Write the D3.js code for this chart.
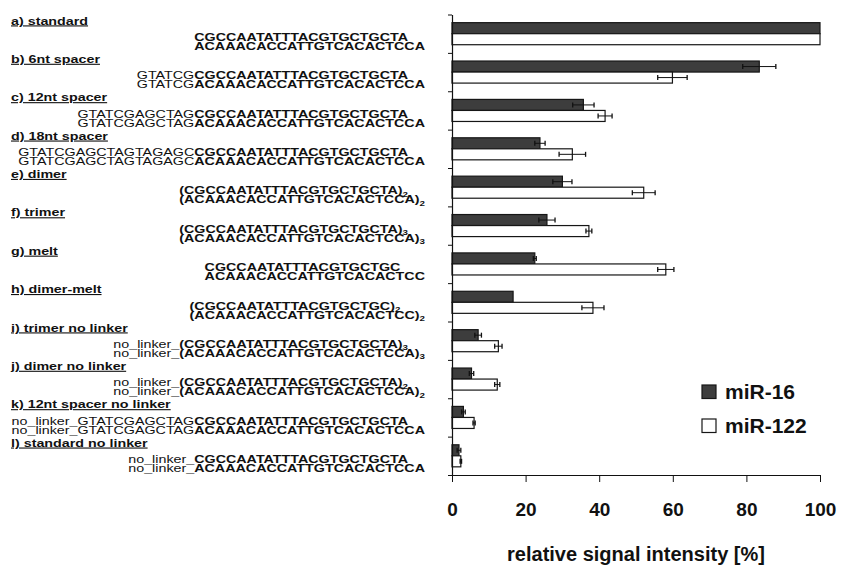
<!DOCTYPE html>
<html>
<head>
<meta charset="utf-8">
<script src="https://cdn.jsdelivr.net/npm/d3@7"></script>
<style>
  body { margin: 0; background: #fff; }
  svg text { font-family: "Liberation Sans", Arial, sans-serif; fill: #111; }
</style>
</head>
<body>
<svg id="chart" width="841" height="567"></svg>
<script>
// data
let rowLabels = ['a) standard', 'b) 6nt spacer', 'c) 12nt spacer', 'd) 18nt spacer', 'e) dimer', 'f) trimer',
  'g) melt', 'h) dimer-melt', 'i) trimer no linker', 'j) dimer no linker', 'k) 12nt spacer no linker', 'l) standard no linker'];
let seqPrefix = ['', 'GTATCG', 'GTATCGAGCTAG', 'GTATCGAGCTAGTAGAGC', '', '', '', '', 'no_linker_', 'no_linker_', 'no_linker_GTATCGAGCTAG', 'no_linker_'];
let seqTop = ['CGCCAATATTTACGTGCTGCTA', 'CGCCAATATTTACGTGCTGCTA', 'CGCCAATATTTACGTGCTGCTA', 'CGCCAATATTTACGTGCTGCTA',
  '(CGCCAATATTTACGTGCTGCTA)', '(CGCCAATATTTACGTGCTGCTA)', 'CGCCAATATTTACGTGCTGC', '(CGCCAATATTTACGTGCTGC)',
  '(CGCCAATATTTACGTGCTGCTA)', '(CGCCAATATTTACGTGCTGCTA)', 'CGCCAATATTTACGTGCTGCTA', 'CGCCAATATTTACGTGCTGCTA'];
let seqBottom = ['ACAAACACCATTGTCACACTCCA', 'ACAAACACCATTGTCACACTCCA', 'ACAAACACCATTGTCACACTCCA', 'ACAAACACCATTGTCACACTCCA',
  '(ACAAACACCATTGTCACACTCCA)', '(ACAAACACCATTGTCACACTCCA)', 'ACAAACACCATTGTCACACTCC', '(ACAAACACCATTGTCACACTCC)',
  '(ACAAACACCATTGTCACACTCCA)', '(ACAAACACCATTGTCACACTCCA)', 'ACAAACACCATTGTCACACTCCA', 'ACAAACACCATTGTCACACTCCA'];
let seqSub = ['', '', '', '', '2', '3', '', '2', '3', '2', '', ''];

let seriesNames = ['miR-16', 'miR-122'];
let mir16 = [100, 83.5, 35.7, 23.9, 30.0, 25.8, 22.5, 16.6, 7.1, 5.3, 3.1, 1.9];
let mir16Err = [0, 4.5, 2.9, 1.4, 2.6, 2.2, 0.4, 0, 0.9, 0.6, 0.5, 0.5];
let mir122 = [100, 59.9, 41.6, 32.7, 52.1, 37.2, 58.1, 38.3, 12.6, 12.3, 6.0, 2.4];
let mir122Err = [0, 4.0, 1.9, 3.6, 3.1, 0.8, 2.2, 3.0, 1.0, 0.7, 0.3, 0.2];
let xTicks = [0, 20, 40, 60, 80, 100];

let svg = d3.select('#chart');
let plotL = 452, plotR = 820, plotT = 14.5, plotB = 475;
let fills = {'miR-16': '#3d3d3d', 'miR-122': '#ffffff'};

let x = d3.scaleLinear().domain([0, 100]).range([plotL, plotR]);
let y = d3.scaleBand().domain(rowLabels).range([plotT, plotB]);
let ySub = d3.scaleBand().domain(seriesNames).range([0, y.bandwidth()]).paddingOuter(0.74);

let rows = rowLabels.map((lab, i) => ({
  label: lab,
  vals: [{s: 'miR-16', v: mir16[i], e: mir16Err[i]}, {s: 'miR-122', v: mir122[i], e: mir122Err[i]}]
}));

// bars
let rowG = svg.append('g').selectAll('g').data(rows).join('g')
  .attr('transform', d => `translate(0,${y(d.label)})`);
rowG.selectAll('rect').data(d => d.vals).join('rect')
  .attr('x', x(0))
  .attr('y', d => ySub(d.s))
  .attr('width', d => x(d.v) - x(0))
  .attr('height', ySub.bandwidth())
  .attr('fill', d => fills[d.s])
  .attr('stroke', '#161616')
  .attr('stroke-width', 1.2);

// error bars
let eb = rowG.selectAll('g.err').data(d => d.vals.filter(v => v.e > 0)).join('g').attr('class', 'err')
  .attr('transform', d => `translate(0,${ySub(d.s) + ySub.bandwidth() / 2})`);
eb.append('line').attr('x1', d => x(d.v - d.e)).attr('x2', d => x(d.v + d.e))
  .attr('stroke', '#111').attr('stroke-width', 1);
eb.append('line').attr('x1', d => x(d.v - d.e)).attr('x2', d => x(d.v - d.e)).attr('y1', -2.5).attr('y2', 2.5)
  .attr('stroke', '#111').attr('stroke-width', 1.3);
eb.append('line').attr('x1', d => x(d.v + d.e)).attr('x2', d => x(d.v + d.e)).attr('y1', -2.5).attr('y2', 2.5)
  .attr('stroke', '#111').attr('stroke-width', 1.3);

// left axis with ticks at row boundaries
let yEdge = d3.scaleLinear().domain([0, rowLabels.length]).range([plotT, plotB]);
let lAxis = svg.append('g').attr('transform', `translate(${plotL},0)`)
  .call(d3.axisLeft(yEdge).tickValues(d3.range(rowLabels.length + 1)).tickFormat('').tickSize(4).tickSizeOuter(0));
lAxis.select('path').attr('stroke', '#111').attr('stroke-width', 1.2);
lAxis.selectAll('line').attr('stroke', '#111');

// bottom axis
let bAxis = svg.append('g').attr('transform', `translate(0,${plotB})`)
  .call(d3.axisBottom(x).tickValues(xTicks).tickSize(7).tickSizeOuter(0).tickPadding(21));
bAxis.select('path').attr('stroke', '#111').attr('stroke-width', 1.2);
bAxis.selectAll('line').attr('stroke', '#111');
bAxis.selectAll('text').attr('font-size', 19).attr('font-weight', 'bold')
  .style('font-family', '"Liberation Sans", Arial, sans-serif').attr('fill', '#111');

svg.append('text').attr('x', (plotL + plotR) / 2).attr('y', 561).attr('text-anchor', 'middle')
  .attr('font-size', 20).attr('font-weight', 'bold').text('relative signal intensity [%]');

// legend
let leg = svg.append('g').selectAll('g').data(seriesNames).join('g')
  .attr('transform', (d, i) => `translate(702,${385 + i * 34})`);
leg.append('rect').attr('width', 14).attr('height', 13.5)
  .attr('fill', d => fills[d]).attr('stroke', '#161616').attr('stroke-width', 1.2);
leg.append('text').attr('x', 23).attr('y', 13.5).attr('font-size', 21).attr('font-weight', 'bold').text(d => d);

// left labels and sequences (text is horizontally stretched in the figure)
let sx = 1.3, textRight = 425;
let txt = svg.append('g').selectAll('g').data(rowLabels).join('g')
  .attr('transform', d => `translate(0,${y(d)}) scale(${sx},1)`);
txt.append('text').attr('x', 11 / sx).attr('y', 10)
  .attr('font-size', 11).attr('font-weight', 'bold').style('text-decoration', 'underline')
  .text(d => d);

txt.each(function(d, i) {
  let g = d3.select(this);
  let lines = [seqTop[i], seqBottom[i]];
  let texts = lines.map((core, k) => {
    let t = g.append('text').attr('y', 26.5 + k * 8.9).attr('font-size', 11);
    t.append('tspan').text(seqPrefix[i]);
    t.append('tspan').attr('font-weight', 'bold').text(core);
    if (seqSub[i]) t.append('tspan').attr('font-size', 7.5).attr('font-weight', 'bold').attr('dy', 2.5).text(seqSub[i]);
    return t;
  });
  let w = d3.max(texts, t => t.node().getComputedTextLength());
  texts.forEach(t => t.attr('x', textRight / sx - w));
});
</script>
</body>
</html>
